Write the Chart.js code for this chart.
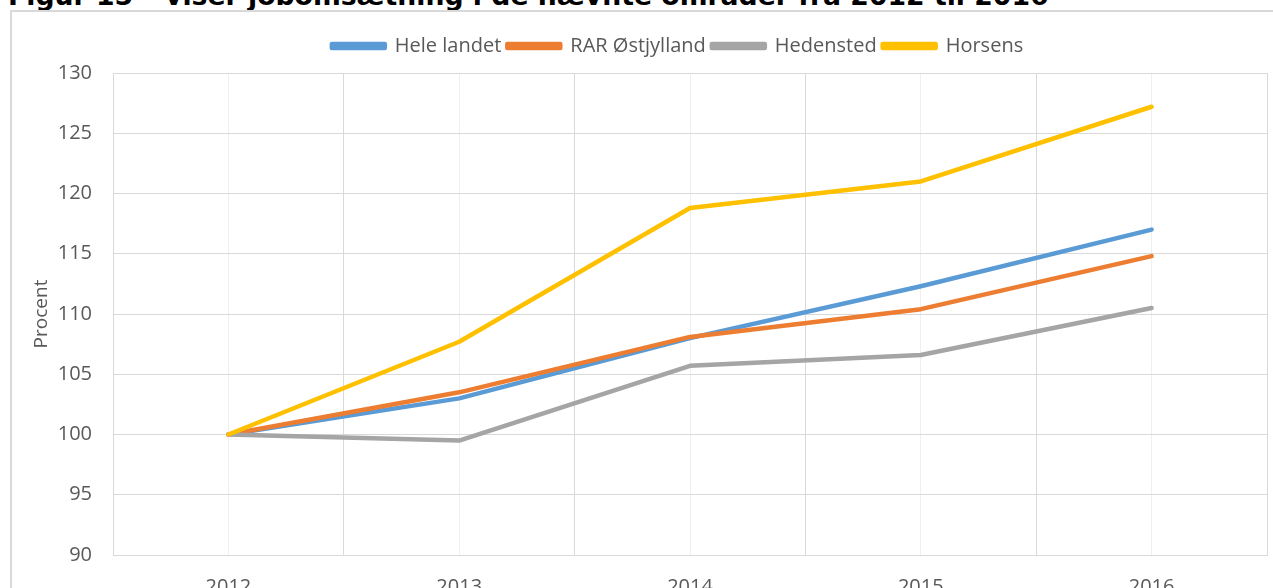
<!DOCTYPE html>
<html>
<head>
<meta charset="utf-8">
<script src="https://cdn.jsdelivr.net/npm/chart.js@4/dist/chart.umd.min.js"></script>
<style>
  html, body { margin: 0; padding: 0; background: #fff; overflow: hidden; }
  body { width: 1273px; height: 588px; position: relative; }
  #title {
    position: absolute; left: 8px; top: -18px; white-space: nowrap;
    font: bold 26.7px "DejaVu Sans", Verdana, sans-serif; line-height: 27px; color: #000;
  }
  #frame {
    position: absolute; left: 10px; top: 10px; width: 1300px; height: 700px;
    border: 2px solid #d9d9d9; box-sizing: border-box;
  }
  #wrap { position: absolute; left: 0; top: 0; width: 1273px; height: 620px; }
</style>
</head>
<body>
<div id="title">Figur 15 – viser jobomsætning i de nævnte områder fra 2012 til 2016</div>
<div id="frame"></div>
<div id="wrap"><canvas id="chart"></canvas></div>
<script>
const years = ['2012', '2013', '2014', '2015', '2016'];
const seriesNames = ['Hele landet', 'RAR Østjylland', 'Hedensted', 'Horsens'];
const heleLandet = [100, 103.0, 108.0, 112.3, 117.0];
const rarOstjylland = [100, 103.5, 108.1, 110.4, 114.8];
const hedensted = [100, 99.5, 105.7, 106.6, 110.5];
const horsens = [100, 107.7, 118.8, 121.0, 127.2];
const colors = ['#5b9bd5', '#ed7d31', '#a5a5a5', '#ffc000'];

const allSeries = [heleLandet, rarOstjylland, hedensted, horsens];
const textColor = '#595959';
const baseFont = "'Open Sans', sans-serif";

const datasets = allSeries.map((values, i) => ({
  label: seriesNames[i],
  data: values,
  borderColor: colors[i],
  backgroundColor: colors[i],
  borderWidth: 4.5,
  pointRadius: 0,
  tension: 0,
  borderJoinStyle: 'round',
  borderCapStyle: 'round',
  order: allSeries.length - i,
  xAxisID: 'x'
}));

// legend: a bit more room below it, and shifted right like the original
const legendTweak = {
  id: 'legendTweak',
  afterInit(chart) {
    const legend = chart.legend;
    const origFit = legend.fit;
    legend.fit = function () {
      origFit.call(this);
      this.height += 7;
    };
  },
  afterLayout(chart) {
    chart.legend.left += 34;
    chart.legend.right += 34;
  }
};

new Chart(document.getElementById('chart'), {
  type: 'line',
  data: { labels: years, datasets: datasets },
  plugins: [legendTweak],
  options: {
    responsive: true,
    maintainAspectRatio: false,
    animation: false,
    layout: { padding: { left: 20, right: 6, top: 30, bottom: 0 } },
    plugins: {
      legend: {
        position: 'top',
        labels: {
          boxWidth: 53,
          boxHeight: 4,
          padding: 6,
          color: textColor,
          font: { family: baseFont, size: 20 },
          sort: (a, b) => a.datasetIndex - b.datasetIndex
        }
      },
      tooltip: { enabled: false }
    },
    scales: {
      x: {
        type: 'category',
        offset: true,
        grid: { offset: true, color: '#d9d9d9', drawTicks: false },
        border: { display: true, color: '#d9d9d9' },
        ticks: { color: textColor, padding: 20, font: { family: baseFont, size: 20 } },
        afterFit: (scale) => { scale.height = 65; }
      },
      x2: {
        type: 'category',
        labels: years,
        position: 'bottom',
        offset: true,
        grid: { offset: false, color: '#efefef', drawTicks: false },
        border: { display: false },
        ticks: { display: false },
        afterFit: (scale) => { scale.height = 0; }
      },
      y: {
        min: 90,
        max: 130,
        ticks: { stepSize: 5, color: textColor, padding: 21, font: { family: baseFont, size: 20 } },
        grid: { color: '#d9d9d9', drawTicks: false },
        border: { display: true, color: '#d9d9d9' },
        title: {
          display: true,
          text: 'Procent',
          color: textColor,
          font: { family: baseFont, size: 19 },
          padding: { top: 10, bottom: 0 }
        },
        afterFit: (scale) => { scale.width = 93; }
      }
    }
  }
});
</script>
</body>
</html>
